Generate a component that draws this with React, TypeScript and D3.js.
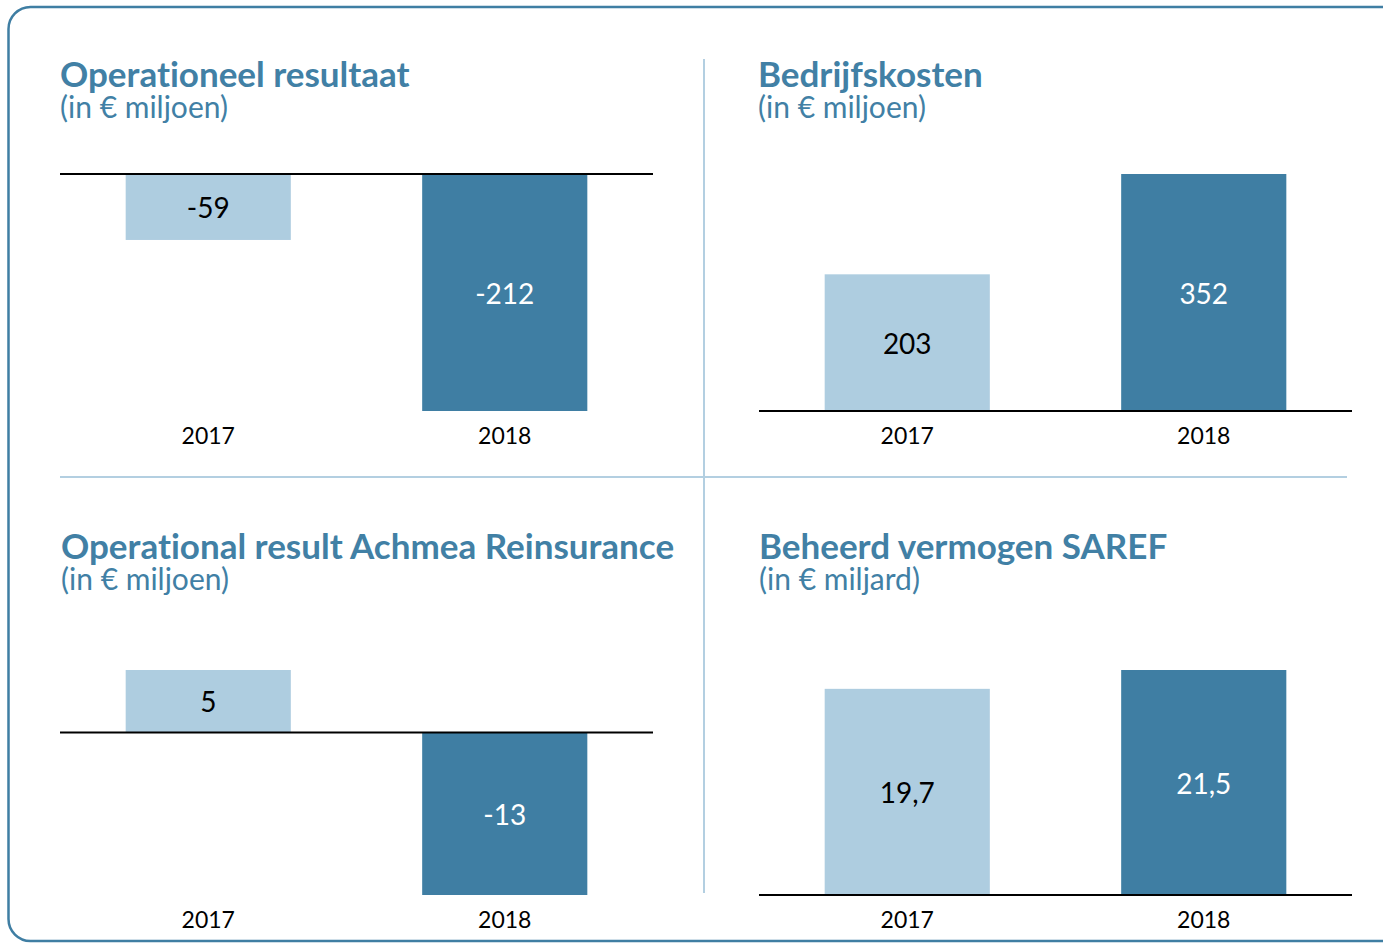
import React from "react";
import * as d3 from "d3";

const years = ["2017", "2018"];
const operationeelValues = [-59, -212];
const operationeelLabels = ["-59", "-212"];
const bedrijfskostenValues = [203, 352];
const bedrijfskostenLabels = ["203", "352"];
const reinsuranceValues = [5, -13];
const reinsuranceLabels = ["5", "-13"];
const sarefValues = [19.7, 21.5];
const sarefLabels = ["19,7", "21,5"];

const titles = [
  "Operationeel resultaat",
  "Bedrijfskosten",
  "Operational result Achmea Reinsurance",
  "Beheerd vermogen SAREF",
];
const subtitles = ["(in € miljoen)", "(in € miljoen)", "(in € miljoen)", "(in € miljard)"];

const LIGHT = "#aecde0";
const DARK = "#3f7ea3";
const TITLE = "#4180a5";
const DIVIDER = "#b3cfe1";
const FONT = "Lato, 'Open Sans', sans-serif";

type PanelProps = {
  title: string;
  subtitle: string;
  values: number[];
  labels: string[];
  x0: number;
  x1: number;
  titleX: number;
  titleY: number;
  yTop: number;
  yBottom: number;
  yearY: number;
};

function Panel(p: PanelProps) {
  const x = d3
    .scaleBand<string>()
    .domain(years)
    .range([p.x0, p.x1])
    .paddingInner(0.443)
    .paddingOuter(0.2215);
  const minV = Math.min(0, d3.min(p.values) as number);
  const maxV = Math.max(0, d3.max(p.values) as number);
  const y = d3.scaleLinear().domain([minV, maxV]).range([p.yBottom, p.yTop]);
  const zero = y(0);
  return (
    <g>
      <text
        x={p.titleX}
        y={p.titleY}
        fill={TITLE}
        fontFamily={FONT}
        fontWeight={700}
        fontSize={35}
        style={{ fontVariantLigatures: "none" }}
      >
        {p.title}
      </text>
      <text x={p.titleX} y={p.titleY + 31} fill={TITLE} fontFamily={FONT} fontSize={30}>
        {p.subtitle}
      </text>
      {p.values.map((v, i) => {
        const top = Math.min(y(v), zero);
        const h = Math.abs(y(v) - zero);
        const bx = x(years[i]) as number;
        return (
          <g key={i}>
            <rect x={bx} y={top} width={x.bandwidth()} height={h} fill={i === 0 ? LIGHT : DARK} />
            <text
              x={bx + x.bandwidth() / 2}
              y={top + h / 2}
              textAnchor="middle"
              dominantBaseline="central"
              fontFamily={FONT}
              fontSize={28}
              fill={i === 0 ? "#000" : "#fff"}
            >
              {p.labels[i]}
            </text>
            <text
              x={bx + x.bandwidth() / 2}
              y={p.yearY}
              textAnchor="middle"
              dominantBaseline="central"
              fontFamily={FONT}
              fontSize={23}
              fill="#000"
            >
              {years[i]}
            </text>
          </g>
        );
      })}
      <line x1={p.x0} x2={p.x1} y1={zero} y2={zero} stroke="#000" strokeWidth={2} />
    </g>
  );
}

export default function App() {
  return (
    <svg width={1383} height={943} style={{ position: "absolute", left: 0, top: 0, background: "#fff" }}>
      <rect x={8.5} y={7} width={1400} height={934} rx={22} ry={22} fill="#fff" stroke={DARK} strokeWidth={2.5} />
      <line x1={704} x2={704} y1={59} y2={893} stroke={DIVIDER} strokeWidth={2} />
      <line x1={60} x2={1347} y1={477} y2={477} stroke={DIVIDER} strokeWidth={2} />
      <Panel
        title={titles[0]}
        subtitle={subtitles[0]}
        values={operationeelValues}
        labels={operationeelLabels}
        x0={60}
        x1={653}
        titleX={60}
        titleY={87}
        yTop={174}
        yBottom={411}
        yearY={435}
      />
      <Panel
        title={titles[1]}
        subtitle={subtitles[1]}
        values={bedrijfskostenValues}
        labels={bedrijfskostenLabels}
        x0={759}
        x1={1352}
        titleX={758}
        titleY={87}
        yTop={174}
        yBottom={411}
        yearY={435}
      />
      <Panel
        title={titles[2]}
        subtitle={subtitles[2]}
        values={reinsuranceValues}
        labels={reinsuranceLabels}
        x0={60}
        x1={653}
        titleX={61}
        titleY={559}
        yTop={670}
        yBottom={895}
        yearY={919}
      />
      <Panel
        title={titles[3]}
        subtitle={subtitles[3]}
        values={sarefValues}
        labels={sarefLabels}
        x0={759}
        x1={1352}
        titleX={759}
        titleY={559}
        yTop={670}
        yBottom={895}
        yearY={919}
      />
    </svg>
  );
}
